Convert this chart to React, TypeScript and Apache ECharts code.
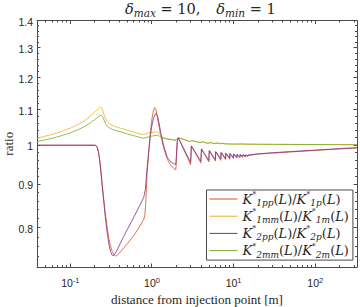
import React, { useEffect, useRef } from 'react';
import * as echarts from 'echarts';

// ---- axis ranges & ticks ----
const X_MIN = 0.039;
const X_MAX = 325;
const Y_MIN = 0.72;
const Y_MAX = 1.4;
const xMajorTicks = [0.1, 1, 10, 100];
const yMajorTicks = [0.8, 0.9, 1, 1.1, 1.2, 1.3, 1.4];
const yTickLabels = ['0.8', '0.9', '1', '1.1', '1.2', '1.3', '1.4'];

const seriesNames = ['K1pp', 'K1mm', 'K2pp', 'K2mm'];
const seriesColors = ['#D95319', '#EDB120', '#7E2F8E', '#77AC30'];
const legendSubs: Record<string, string[]> = {
  K1pp: ['1pp', '1p'],
  K1mm: ['1mm', '1m'],
  K2pp: ['2pp', '2p'],
  K2mm: ['2mm', '2m'],
};

// ---- K*1pp / K*1p (red) ----
const k1ppDist = [0.039, 0.1, 0.2, 0.2065, 0.213, 0.22, 0.228, 0.236, 0.245, 0.256, 0.268, 0.282, 0.296, 0.31, 0.325, 0.34, 0.355, 0.37, 0.4, 0.45, 0.5, 0.6, 0.7, 0.793, 0.815, 0.835, 0.87, 0.92, 0.96, 1.0, 1.04, 1.08, 1.12, 1.18, 1.27, 1.4, 1.54, 1.7, 1.85, 1.96, 2.04, 2.1, 2.97, 3.04, 3.97, 4.04, 4.97, 5.04, 5.97, 6.04, 6.97, 7.04, 7.97, 8.04, 8.97, 9.04, 9.97, 10.04, 10.97, 11.04, 11.97, 12.04, 12.97, 13.04, 13.97, 14.04, 14.97, 15.04, 20, 30, 50, 100, 200, 325];
const k1ppRatio = [1.0, 1.0, 1.0, 0.999, 0.995, 0.984, 0.963, 0.936, 0.902, 0.866, 0.833, 0.802, 0.778, 0.762, 0.751, 0.745, 0.742, 0.742, 0.748, 0.758, 0.767, 0.784, 0.802, 0.819, 0.826, 0.85, 0.925, 0.995, 1.04, 1.075, 1.097, 1.107, 1.1, 1.07, 1.03, 0.99, 0.963, 0.947, 0.939, 0.936, 1.01, 1.021, 0.949, 0.998, 0.953, 0.99, 0.956, 0.985, 0.958, 0.982, 0.96, 0.98, 0.962, 0.978, 0.963, 0.977, 0.965, 0.976, 0.966, 0.975, 0.967, 0.974, 0.968, 0.9735, 0.969, 0.973, 0.97, 0.9725, 0.9765, 0.979, 0.982, 0.986, 0.99, 0.9925];

// ---- K*1mm / K*1m (yellow) ----
const k1mmDist = [0.039, 0.05, 0.065, 0.08, 0.1, 0.125, 0.15, 0.175, 0.2, 0.22, 0.233, 0.242, 0.252, 0.263, 0.277, 0.3, 0.35, 0.41, 0.5, 0.6, 0.72, 0.793, 0.83, 0.9, 1.0, 1.1, 1.18, 1.24, 1.3, 1.4, 1.6, 1.96, 2.04, 2.1, 2.97, 3.04, 3.97, 4.04, 4.97, 5.04, 5.97, 6.04, 6.97, 7.04, 7.97, 8.04, 8.97, 9.04, 9.97, 10.04, 12, 15, 30, 100, 325];
const k1mmRatio = [1.019, 1.025, 1.032, 1.039, 1.047, 1.058, 1.069, 1.081, 1.094, 1.104, 1.11, 1.106, 1.094, 1.08, 1.068, 1.059, 1.052, 1.047, 1.041, 1.036, 1.031, 1.029, 1.031, 1.034, 1.035, 1.036, 1.037, 1.03, 1.024, 1.02, 1.017, 1.014, 1.018, 1.021, 1.01, 1.013, 1.007, 1.01, 1.005, 1.008, 1.0045, 1.0065, 1.004, 1.006, 1.0037, 1.0055, 1.0035, 1.005, 1.0033, 1.0047, 1.0035, 1.003, 1.0025, 1.002, 1.0015];

// ---- K*2pp / K*2p (purple) ----
const k2ppDist = [0.039, 0.1, 0.2, 0.2065, 0.213, 0.22, 0.228, 0.236, 0.245, 0.256, 0.268, 0.282, 0.296, 0.31, 0.325, 0.34, 0.36, 0.38, 0.41, 0.45, 0.5, 0.55, 0.6, 0.7, 0.793, 0.83, 0.87, 0.92, 0.96, 1.0, 1.05, 1.1, 1.13, 1.17, 1.22, 1.28, 1.4, 1.54, 1.7, 1.85, 1.96, 2.04, 2.1, 2.97, 3.04, 3.97, 4.04, 4.97, 5.04, 5.97, 6.04, 6.97, 7.04, 7.97, 8.04, 8.97, 9.04, 9.97, 10.04, 10.97, 11.04, 11.97, 12.04, 12.97, 13.04, 13.97, 14.04, 14.97, 15.04, 20, 30, 50, 100, 200, 325];
const k2ppRatio = [1.0, 1.0, 1.0, 0.999, 0.995, 0.984, 0.962, 0.933, 0.898, 0.86, 0.823, 0.791, 0.766, 0.751, 0.743, 0.743, 0.749, 0.756, 0.768, 0.782, 0.797, 0.811, 0.824, 0.848, 0.869, 0.888, 0.938, 0.99, 1.03, 1.056, 1.078, 1.088, 1.089, 1.082, 1.062, 1.035, 0.996, 0.968, 0.956, 0.951, 0.95, 1.01, 1.02, 0.955, 0.998, 0.958, 0.99, 0.96, 0.986, 0.962, 0.983, 0.964, 0.981, 0.965, 0.979, 0.966, 0.978, 0.967, 0.977, 0.968, 0.976, 0.969, 0.9755, 0.97, 0.975, 0.971, 0.9745, 0.972, 0.974, 0.977, 0.98, 0.983, 0.987, 0.991, 0.9935];

// ---- K*2mm / K*2m (green) ----
const k2mmDist = [0.039, 0.05, 0.065, 0.08, 0.1, 0.125, 0.15, 0.175, 0.2, 0.22, 0.238, 0.247, 0.257, 0.27, 0.285, 0.31, 0.35, 0.41, 0.5, 0.6, 0.72, 0.793, 0.85, 0.95, 1.05, 1.18, 1.24, 1.3, 1.4, 1.6, 1.96, 2.04, 2.1, 2.97, 3.04, 3.97, 4.04, 4.97, 5.04, 5.97, 6.04, 6.97, 7.04, 7.97, 8.04, 8.97, 9.04, 9.97, 10.04, 12, 15, 30, 100, 325];
const k2mmRatio = [1.01, 1.015, 1.021, 1.027, 1.034, 1.043, 1.052, 1.062, 1.072, 1.08, 1.085, 1.081, 1.071, 1.06, 1.052, 1.046, 1.041, 1.037, 1.031, 1.026, 1.021, 1.019, 1.021, 1.024, 1.026, 1.027, 1.024, 1.021, 1.019, 1.016, 1.0135, 1.0175, 1.0205, 1.0095, 1.0125, 1.0065, 1.0095, 1.0045, 1.0075, 1.004, 1.006, 1.0035, 1.0055, 1.0033, 1.005, 1.0031, 1.0046, 1.003, 1.0043, 1.0032, 1.0028, 1.0023, 1.0018, 1.0013];

const seriesDist = [k1ppDist, k1mmDist, k2ppDist, k2mmDist];
const seriesRatio = [k1ppRatio, k1mmRatio, k2ppRatio, k2mmRatio];

const AXIS = '#262626';
const TICK_COLOR = '#4a4a4a';
const MATH_FONT = 'DejaVu Serif';
const ROMAN_FONT = 'Liberation Serif';
const SANS = 'Liberation Sans';

export default function App() {
  const ref = useRef<HTMLDivElement>(null);

  useEffect(() => {
    const el = ref.current;
    if (!el) return;
    const chart = echarts.init(el, null, { renderer: 'svg' });

    const axisLineOnly = {
      axisLine: { show: true, onZero: false, lineStyle: { color: TICK_COLOR, width: 1 } },
      axisTick: { show: false },
      minorTick: { show: false },
      axisLabel: { show: false },
      splitLine: { show: false },
    };

    const option: any = {
      animation: false,
      backgroundColor: '#ffffff',
      title: {
        left: 125,
        top: 0,
        padding: 0,
        text: '{d|δ}{s|max}{r| = 10,}{q| }{d|δ}{s|min}{r| = 1}',
        textStyle: {
          fontWeight: 'normal',
          color: AXIS,
          rich: {
            d: { fontFamily: MATH_FONT, fontStyle: 'italic', fontSize: 14.5, lineHeight: 18, color: AXIS },
            s: { fontFamily: MATH_FONT, fontStyle: 'italic', fontSize: 10.5, lineHeight: 10, verticalAlign: 'bottom', color: AXIS },
            r: { fontFamily: MATH_FONT, fontSize: 14.5, lineHeight: 18, color: AXIS },
            q: { width: 16, fontSize: 14, lineHeight: 18 },
          },
        },
      },
      grid: { left: 37, right: 3, top: 20.5, bottom: 40, containLabel: false, outerBoundsMode: 'none' },
      xAxis: [
        {
          type: 'log',
          logBase: 10,
          min: X_MIN,
          max: X_MAX,
          position: 'bottom',
          axisLine: { show: true, onZero: false, lineStyle: { color: TICK_COLOR, width: 1 } },
          axisTick: { show: false },
          minorTick: { show: false },
          splitLine: { show: false },
          axisLabel: {
            margin: 9,
            showMinLabel: true,
            showMaxLabel: true,
            formatter: (v: number) => {
              const e = Math.log10(v);
              const r = Math.round(e);
              if (Math.abs(e - r) > 1e-6) return '';
              return '{b|10}{e|' + r + '}';
            },
            rich: {
              b: { fontFamily: SANS, fontSize: 10.5, lineHeight: 14, color: AXIS },
              e: { fontFamily: SANS, fontSize: 7.5, lineHeight: 9, verticalAlign: 'top', color: AXIS },
            },
          },
          name: 'distance from injection point [m]',
          nameLocation: 'middle',
          nameGap: 24,
          nameTextStyle: { fontFamily: ROMAN_FONT, fontSize: 13, color: AXIS },
        },
        { type: 'log', logBase: 10, min: X_MIN, max: X_MAX, position: 'top', ...axisLineOnly },
      ],
      yAxis: [
        {
          type: 'log',
          logBase: 10,
          min: Y_MIN,
          max: Y_MAX,
          position: 'left',
          ...axisLineOnly,
          name: 'ratio',
          nameLocation: 'middle',
          nameGap: 22,
          nameRotate: 90,
          nameTextStyle: { fontFamily: ROMAN_FONT, fontSize: 13, color: AXIS },
        },
        { type: 'log', logBase: 10, min: Y_MIN, max: Y_MAX, position: 'right', ...axisLineOnly },
      ],
      legend: {
        show: true,
        orient: 'vertical',
        left: 206.5,
        top: 190,
        padding: [0.5, 4, 1, 3],
        itemGap: 0.2,
        itemWidth: 28,
        itemHeight: 1,
        icon: 'rect',
        backgroundColor: '#ffffff',
        borderColor: TICK_COLOR,
        borderWidth: 1,
        borderRadius: 0,
        data: seriesNames,
        formatter: (name: string) => {
          const [a, b] = legendSubs[name];
          return (
            '{k|K}{st|*}{sb|' + a + '}{r|(}{k|L}{r|)/}{k|K}{st|*}{sb|' + b + '}{r|(}{k|L}{r|)}'
          );
        },
        textStyle: {
          color: AXIS,
          rich: {
            k: { fontFamily: MATH_FONT, fontStyle: 'italic', fontSize: 13, lineHeight: 17, color: AXIS },
            r: { fontFamily: MATH_FONT, fontSize: 13, lineHeight: 17, color: AXIS },
            st: { fontFamily: MATH_FONT, fontSize: 8, lineHeight: 8, verticalAlign: 'top', color: AXIS },
            sb: { fontFamily: MATH_FONT, fontStyle: 'italic', fontSize: 9, lineHeight: 8, verticalAlign: 'bottom', color: AXIS },
          },
        },
      },
      series: seriesNames.map((name, i) => ({
        name,
        type: 'line',
        xAxisIndex: 0,
        yAxisIndex: 0,
        symbol: 'none',
        showSymbol: false,
        smooth: false,
        color: seriesColors[i],
        itemStyle: { color: seriesColors[i] },
        lineStyle: { color: seriesColors[i], width: 0.8 },
        data: seriesDist[i].map((d, j) => [d, seriesRatio[i][j]]),
      })),
    };

    chart.setOption(option);

    const toPx = (x: number, y: number) =>
      chart.convertToPixel({ xAxisIndex: 0, yAxisIndex: 0 }, [x, y]) as number[];
    const [left, bottom] = toPx(X_MIN, Y_MIN);
    const [right, top] = toPx(X_MAX, Y_MAX);
    const crisp = (v: number) => Math.round(v - 0.5) + 0.5;
    const MAJOR = 3.5;
    const MINOR = 2;
    const g: any[] = [];
    const seg = (x1: number, y1: number, x2: number, y2: number) =>
      g.push({
        type: 'line',
        silent: true,
        shape: { x1, y1, x2, y2 },
        style: { stroke: TICK_COLOR, lineWidth: 1 },
      });
    const xTick = (v: number, len: number) => {
      const x = crisp(toPx(v, 1)[0]);
      seg(x, bottom, x, bottom - len);
      seg(x, top, x, top + len);
    };
    const yTick = (v: number, len: number) => {
      const y = crisp(toPx(1, v)[1]);
      seg(left, y, left + len, y);
      seg(right, y, right - len, y);
    };
    xMajorTicks.forEach((v) => xTick(v, MAJOR));
    for (let d = -2; d <= 2; d++) {
      for (let m = 2; m <= 9; m++) {
        const v = m * Math.pow(10, d);
        if (v >= X_MIN && v <= X_MAX) xTick(v, MINOR);
      }
    }
    yMajorTicks.forEach((v) => yTick(v, MAJOR));
    for (let k = 36; k <= 70; k++) {
      if (k % 5 !== 0) yTick(k / 50, MINOR);
    }
    yMajorTicks.forEach((v, i) => {
      const y = toPx(1, v)[1];
      g.push({
        type: 'text',
        silent: true,
        style: {
          text: yTickLabels[i],
          x: left - 4,
          y: y + 1,
          textAlign: 'right',
          textVerticalAlign: 'middle',
          fontFamily: SANS,
          fontSize: 10.5,
          fill: AXIS,
        },
      });
    });
    chart.setOption({ graphic: g });

    return () => {
      chart.dispose();
    };
  }, []);

  return (
    <div
      ref={ref}
      style={{ position: 'fixed', left: 0, top: 0, width: 360, height: 307, background: '#fff' }}
    />
  );
}
